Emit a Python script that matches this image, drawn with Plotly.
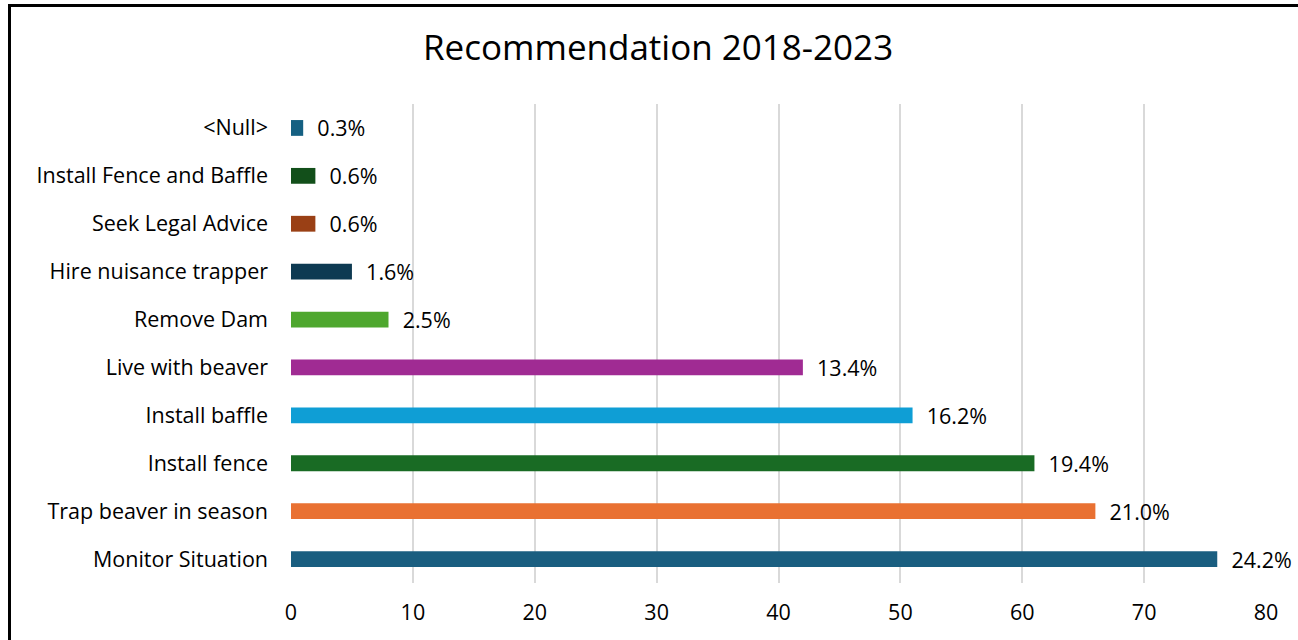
import plotly.graph_objects as go

categories = ["Monitor Situation", "Trap beaver in season", "Install fence", "Install baffle",
              "Live with beaver", "Remove Dam", "Hire nuisance trapper", "Seek Legal Advice",
              "Install Fence and Baffle", "<Null>"]
counts = [76, 66, 61, 51, 42, 8, 5, 2, 2, 1]
pct_labels = ["24.2%", "21.0%", "19.4%", "16.2%", "13.4%", "2.5%", "1.6%", "0.6%", "0.6%", "0.3%"]
colors = ["#1A5E80", "#E97132", "#196B24", "#0F9ED5", "#A02B93", "#4EA72E",
          "#0E3A52", "#9A4015", "#124F1A", "#156082"]
x_ticks = [0, 10, 20, 30, 40, 50, 60, 70, 80]

font_family = "Open Sans, Noto Sans, sans-serif"
W, H = 1298, 640
ML, MR, MT, MB = 291, 32, 104, 57
FS = 21.5

fig = go.Figure(go.Bar(
    x=counts, y=categories, orientation="h",
    marker=dict(color=colors, line=dict(width=0)),
    width=0.33,
    text=pct_labels,
    texttemplate="  %{text}",
    textposition="outside",
    constraintext="none",
    cliponaxis=False,
    textfont=dict(size=FS, color="#000000", family=font_family),
))

plot_w = W - ML - MR
plot_h = H - MT - MB

fig.update_layout(
    width=W, height=H,
    paper_bgcolor="white", plot_bgcolor="white",
    margin=dict(l=ML, r=MR, t=MT, b=MB),
    title=dict(text="Recommendation 2018-2023", x=0.507, xanchor="center",
               y=1 - 48 / H, yanchor="middle",
               font=dict(size=35, color="#000000", family=font_family)),
    showlegend=False,
    xaxis=dict(range=[0, 80], tickvals=x_ticks, showgrid=True, gridcolor="#D9D9D9",
               gridwidth=2, zeroline=False, showline=False, ticks="",
               tickfont=dict(size=FS, color="#000000", family=font_family),
               ticklabelstandoff=14),
    yaxis=dict(showgrid=False, showline=False, ticks="",
               tickfont=dict(size=FS, color="#000000", family=font_family),
               ticklabelstandoff=22),
    shapes=[dict(type="rect", xref="paper", yref="paper",
                 x0=(9.5 - ML) / plot_w, x1=(1320 - ML) / plot_w,
                 y0=(H - MB - 680) / plot_h, y1=(H - MB - 5.5) / plot_h,
                 line=dict(color="#000000", width=3), fillcolor="rgba(0,0,0,0)",
                 layer="above")],
)

fig.write_html("out.html", config={"displayModeBar": False},
               post_script="document.body.style.margin='0';")
